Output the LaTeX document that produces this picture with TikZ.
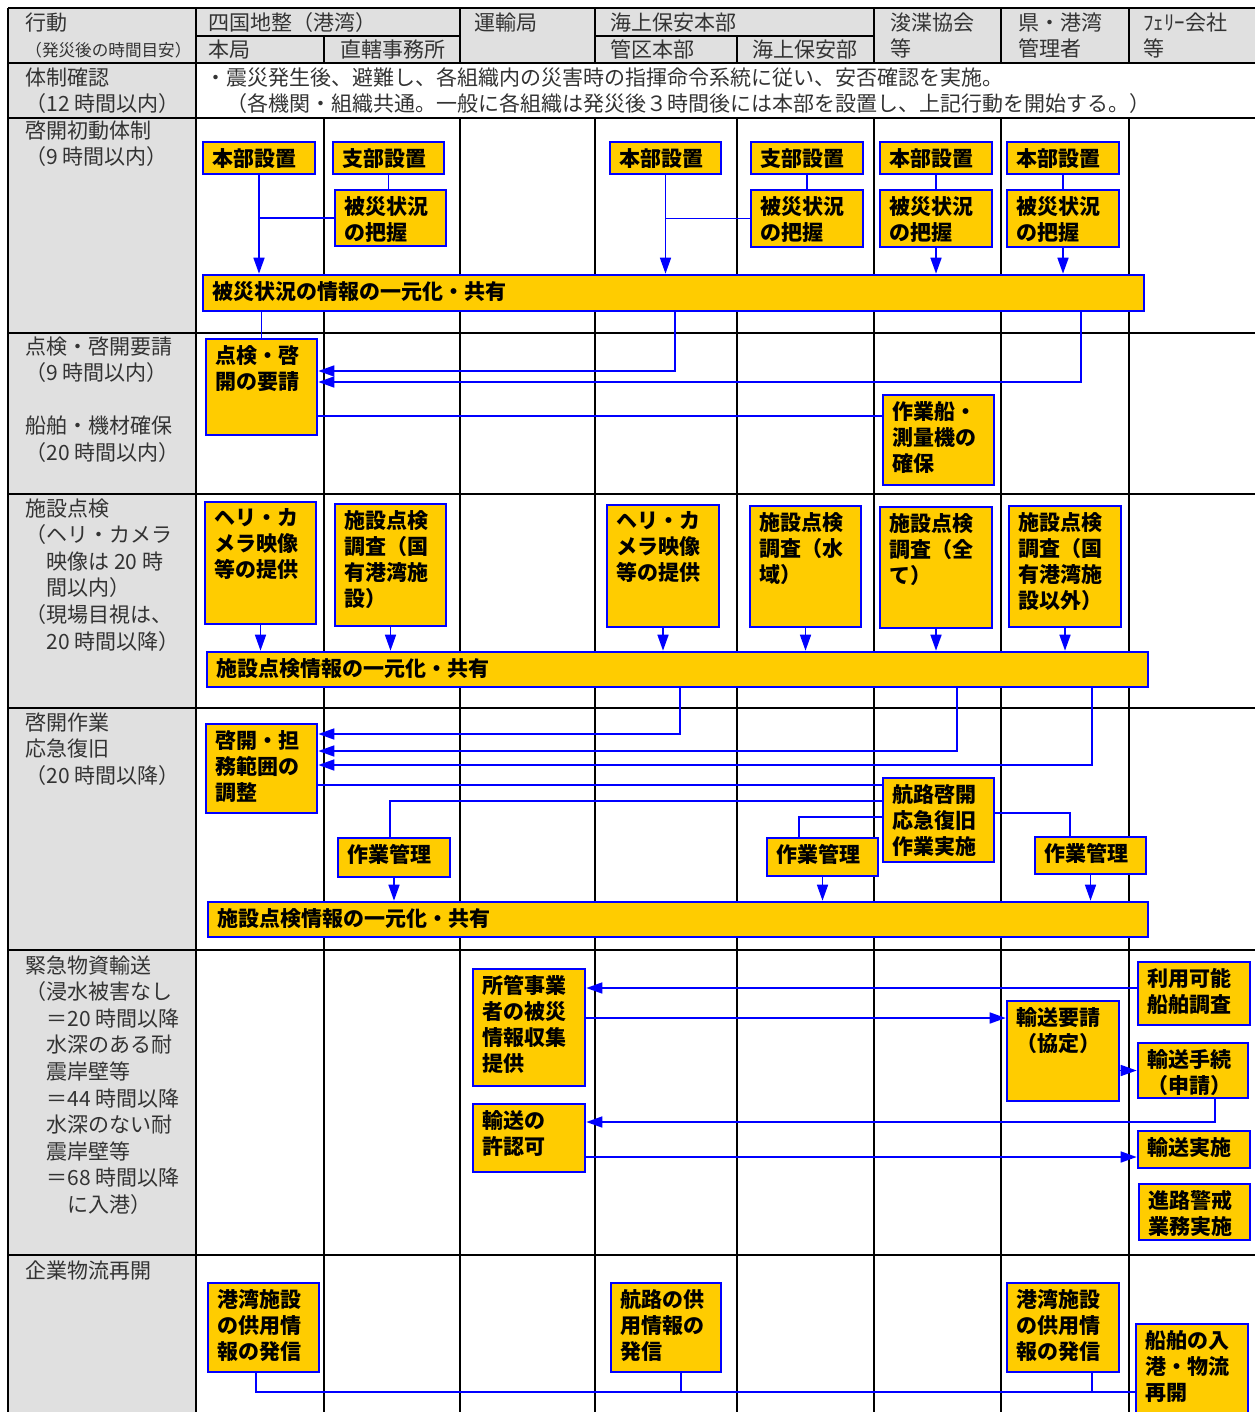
\documentclass[tikz,border=0pt]{standalone}
\usepackage{fontspec}
\setmainfont{Noto Sans CJK JP}
\usetikzlibrary{arrows.meta, fit, positioning}
\definecolor{gold}{HTML}{FFCC00}
\definecolor{bline}{HTML}{0000FF}
\definecolor{cellgray}{HTML}{E0E0E0}

\begin{document}
\begin{tikzpicture}[x=0.5pt, y=-0.5pt,
  bx/.style={draw=bline, fill=gold, line width=1.3pt, inner sep=0pt},
  tx/.style={anchor=north west, align=left, inner xsep=5pt, inner ysep=3.5pt,
             font=\fontsize{10.5}{13}\selectfont\bfseries},
  hd/.style={anchor=north west, align=left, inner sep=0pt,
             font=\fontsize{10.5}{13.3}\selectfont, text=black!80},
  rule/.style={line width=1pt},
  arr/.style={draw=bline, line width=0.8pt, -{Triangle[length=8pt,width=5.5pt]}},
  ln/.style={draw=bline, line width=0.8pt}
]
\useasboundingbox (0,0) rectangle (1255,1412);

% table
\fill[cellgray] (8,8) rectangle (1255,63);
\fill[cellgray] (8,63) rectangle (196,1412);
\foreach \y in {8,63,118,333,494,708,950,1255} \draw[rule] (8,\y) -- (1255,\y);
\draw[rule] (196,36) -- (460,36);
\draw[rule] (595,36) -- (874,36);
\draw[rule] (8,8) -- (8,1412);
\draw[rule] (196,8) -- (196,1412);
\foreach \x in {460,595,874,1001,1129} \draw[rule] (\x,8) -- (\x,63) (\x,118) -- (\x,1412);
\foreach \x in {324,737} \draw[rule] (\x,36) -- (\x,63) (\x,118) -- (\x,1412);

% header
\node[hd] (hAct) at (25,12) {行動\\{\fontsize{8.3}{10}\selectfont（発災後の時間目安）}};
\node[hd] (hShk) at (208,12) {四国地整（港湾）};
\node[hd] (hHq)  at (208,39) {本局};
\node[hd] (hOff) at (340,39) {直轄事務所};
\node[hd] (hTrb) at (474,12) {運輸局};
\node[hd] (hCg)  at (610,12) {海上保安本部};
\node[hd] (hReg) at (610,39) {管区本部};
\node[hd] (hCgs) at (752,39) {海上保安部};
\node[hd] (hDrg) at (890,12) {浚渫協会\\等};
\node[hd] (hPrf) at (1018,12) {県・港湾\\管理者};
\node[hd] (hFry) at (1143,12) {ﾌｪﾘｰ会社\\等};

% left column
\node[hd] (lSys) at (25,67) {体制確認\\（12 時間以内）};
\node[hd] (lIni) at (25,120) {啓開初動体制\\（9 時間以内）};
\node[hd] (lReq) at (25,336) {点検・啓開要請\\（9 時間以内）\\[13.3pt]船舶・機材確保\\（20 時間以内）};
\node[hd] (lFac) at (25,498) {施設点検\\（ヘリ・カメラ\\\hspace*{1em}映像は 20 時\\\hspace*{1em}間以内）\\（現場目視は、\\\hspace*{1em}20 時間以降）};
\node[hd] (lClr) at (25,712) {啓開作業\\応急復旧\\（20 時間以降）};
\node[hd] (lTrn) at (25,955) {緊急物資輸送\\（浸水被害なし\\\hspace*{1em}＝20 時間以降\\\hspace*{1em}水深のある耐\\\hspace*{1em}震岸壁等\\\hspace*{1em}＝44 時間以降\\\hspace*{1em}水深のない耐\\\hspace*{1em}震岸壁等\\\hspace*{1em}＝68 時間以降\\\hspace*{2em}に入港）};
\node[hd] (lLog) at (25,1260) {企業物流再開};

\node[hd] (sysTxt) at (205,67) {・震災発生後、避難し、各組織内の災害時の指揮命令系統に従い、安否確認を実施。\\\hspace*{1em}（各機関・組織共通。一般に各組織は発災後３時間後には本部を設置し、上記行動を開始する。）};

% 啓開初動体制
\node[bx, fit={(203,142)(315,174)}] (hqA) {};
\node[tx] (hqAt) at (hqA.north west) {本部設置};
\node[bx, fit={(333,142)(444,174)}] (brA) {};
\node[tx] (brAt) at (brA.north west) {支部設置};
\node[bx, fit={(335,190)(446,246)}] (dmA) {};
\node[tx] (dmAt) at (dmA.north west) {被災状況\\の把握};
\node[bx, fit={(610,142)(721,174)}] (hqC) {};
\node[tx] (hqCt) at (hqC.north west) {本部設置};
\node[bx, fit={(751,142)(863,174)}] (brC) {};
\node[tx] (brCt) at (brC.north west) {支部設置};
\node[bx, fit={(751,190)(863,247)}] (dmC) {};
\node[tx] (dmCt) at (dmC.north west) {被災状況\\の把握};
\node[bx, fit={(880,142)(992,174)}] (hqD) {};
\node[tx] (hqDt) at (hqD.north west) {本部設置};
\node[bx, fit={(880,190)(992,247)}] (dmD) {};
\node[tx] (dmDt) at (dmD.north west) {被災状況\\の把握};
\node[bx, fit={(1007,142)(1119,174)}] (hqE) {};
\node[tx] (hqEt) at (hqE.north west) {本部設置};
\node[bx, fit={(1007,190)(1119,247)}] (dmE) {};
\node[tx] (dmEt) at (dmE.north west) {被災状況\\の把握};
\node[bx, fit={(203,275)(1144,311)}] (share1) {};
\node[tx] (share1t) at (share1.north west) {被災状況の情報の一元化・共有};

% 点検・啓開要請
\node[bx, fit={(206,339)(317,435)}] (req) {};
\node[tx] (reqt) at (req.north west) {点検・啓\\開の要請};
\node[bx, fit={(883,395)(994,485)}] (ship) {};
\node[tx] (shipt) at (ship.north west) {作業船・\\測量機の\\確保};

% 施設点検
\node[bx, fit={(205,502)(316,624)}] (heA) {};
\node[tx] (heAt) at (heA.north west) {ヘリ・カ\\メラ映像\\等の提供};
\node[bx, fit={(335,504)(446,626)}] (fcB) {};
\node[tx] (fcBt) at (fcB.north west) {施設点検\\調査（国\\有港湾施\\設）};
\node[bx, fit={(607,505)(719,627)}] (heC) {};
\node[tx] (heCt) at (heC.north west) {ヘリ・カ\\メラ映像\\等の提供};
\node[bx, fit={(750,506)(861,627)}] (fcC) {};
\node[tx] (fcCt) at (fcC.north west) {施設点検\\調査（水\\域）};
\node[bx, fit={(880,507)(992,628)}] (fcD) {};
\node[tx] (fcDt) at (fcD.north west) {施設点検\\調査（全\\て）};
\node[bx, fit={(1009,506)(1121,627)}] (fcE) {};
\node[tx] (fcEt) at (fcE.north west) {施設点検\\調査（国\\有港湾施\\設以外）};
\node[bx, fit={(207,652)(1148,687)}] (share2) {};
\node[tx] (share2t) at (share2.north west) {施設点検情報の一元化・共有};

% 啓開作業
\node[bx, fit={(206,724)(317,813)}] (adj) {};
\node[tx] (adjt) at (adj.north west) {啓開・担\\務範囲の\\調整};
\node[bx, fit={(883,778)(994,862)}] (nav) {};
\node[tx] (navt) at (nav.north west) {航路啓開\\応急復旧\\作業実施};
\node[bx, fit={(338,838)(450,877)}] (mgB) {};
\node[tx] (mgBt) at (mgB.north west) {作業管理};
\node[bx, fit={(767,838)(878,876)}] (mgC) {};
\node[tx] (mgCt) at (mgC.north west) {作業管理};
\node[bx, fit={(1035,837)(1146,874)}] (mgE) {};
\node[tx] (mgEt) at (mgE.north west) {作業管理};
\node[bx, fit={(208,902)(1148,937)}] (share3) {};
\node[tx] (share3t) at (share3.north west) {施設点検情報の一元化・共有};

% 緊急物資輸送
\node[bx, fit={(473,969)(585,1086)}] (col) {};
\node[tx] (colt) at (col.north west) {所管事業\\者の被災\\情報収集\\提供};
\node[bx, fit={(473,1104)(585,1172)}] (prm) {};
\node[tx] (prmt) at (prm.north west) {輸送の\\許認可};
\node[bx, fit={(1138,962)(1250,1025)}] (srv) {};
\node[tx] (srvt) at (srv.north west) {利用可能\\船舶調査};
\node[bx, fit={(1007,1001)(1119,1101)}] (rqs) {};
\node[tx] (rqst) at (rqs.north west) {輸送要請\\（協定）};
\node[bx, fit={(1138,1043)(1248,1098)}] (prc) {};
\node[tx] (prct) at (prc.north west) {輸送手続\\（申請）};
\node[bx, fit={(1138,1131)(1250,1168)}] (exe) {};
\node[tx] (exet) at (exe.north west) {輸送実施};
\node[bx, fit={(1139,1184)(1250,1240)}] (esc) {};
\node[tx] (esct) at (esc.north west) {進路警戒\\業務実施};

% 企業物流再開
\node[bx, fit={(208,1283)(319,1372)}] (pbA) {};
\node[tx] (pbAt) at (pbA.north west) {港湾施設\\の供用情\\報の発信};
\node[bx, fit={(611,1283)(721,1372)}] (pbC) {};
\node[tx] (pbCt) at (pbC.north west) {航路の供\\用情報の\\発信};
\node[bx, fit={(1007,1283)(1119,1372)}] (pbE) {};
\node[tx] (pbEt) at (pbE.north west) {港湾施設\\の供用情\\報の発信};
\node[bx, fit={(1136,1324)(1248,1416)}] (ent) {};
\node[tx] (entt) at (ent.north west) {船舶の入\\港・物流\\再開};

% bend points
\coordinate (t1) at (675,371);
\coordinate (t2) at (1081,382);
\coordinate (t3) at (883,416);
\coordinate (u1) at (680,734);
\coordinate (u2) at (957,751);
\coordinate (u3) at (1092,765);
\coordinate (u4) at (883,785);
\coordinate (u5) at (390,801);
\coordinate (u6) at (799,817);
\coordinate (u7) at (1070,813);
\coordinate (v1) at (1138,988);
\coordinate (v2) at (1007,1018);
\coordinate (v4) at (1215,1122);
\coordinate (v5) at (1138,1157);
\coordinate (w1) at (256,1392);
\coordinate (w2) at (681,1392);
\coordinate (w3) at (1092,1392);

% connectors
\draw[arr] (hqA.south) -- (hqA.south |- share1.north);
\draw[ln]  (dmA.west) -- (dmA.west -| hqA.south);
\draw[ln]  (brA.south) -- (brA.south |- dmA.north);
\draw[arr] (hqC.south) -- (hqC.south |- share1.north);
\draw[ln]  (dmC.west) -- (dmC.west -| hqC.south);
\draw[ln]  (brC.south) -- (brC.south |- dmC.north);
\draw[ln]  (hqD.south) -- (dmD.north);
\draw[arr] (dmD.south) -- (dmD.south |- share1.north);
\draw[ln]  (hqE.south) -- (hqE.south |- dmE.north);
\draw[arr] (dmE.south) -- (dmE.south |- share1.north);

\draw[ln]  (share1.south -| req.north) -- (req.north);
\draw[arr] (share1.south -| t1) |- (req.east |- t1);
\draw[arr] (share1.south -| t2) |- (req.east |- t2);
\draw[ln]  (req.east |- t3) -- (ship.west |- t3);

\foreach \n in {heA,fcB,heC,fcC,fcD,fcE}
  \draw[arr] (\n.south) -- (\n.south |- share2.north);

\draw[arr] (share2.south -| u1) |- (adj.east |- u1);
\draw[arr] (share2.south -| u2) |- (adj.east |- u2);
\draw[arr] (share2.south -| u3) |- (adj.east |- u3);
\draw[ln]  (adj.east |- u4) -- (nav.west |- u4);
\draw[ln]  (nav.west |- u5) -- (u5) -- (u5 |- mgB.north);
\draw[ln]  (nav.west |- u6) -| (u6 |- mgC.north);
\draw[ln]  (nav.east |- u7) -| (u7 |- mgE.north);
\foreach \n in {mgB,mgC,mgE}
  \draw[arr] (\n.south) -- (\n.south |- share3.north);

\draw[arr] (srv.west |- v1) -- (col.east |- v1);
\draw[arr] (col.east |- v2) -- (rqs.west |- v2);
\draw[arr] (rqs.east |- prc.west) -- (prc.west);
\draw[arr] (prc.south -| v4) |- (prm.east |- v4);
\draw[arr] (prm.east |- v5) -- (exe.west |- v5);

\draw[ln]  (pbA.south -| w1) |- (ent.west |- w1);
\draw[ln]  (pbC.south -| w2) -- (w2);
\draw[ln]  (pbE.south -| w3) -- (w3);
\end{tikzpicture}
\end{document}
